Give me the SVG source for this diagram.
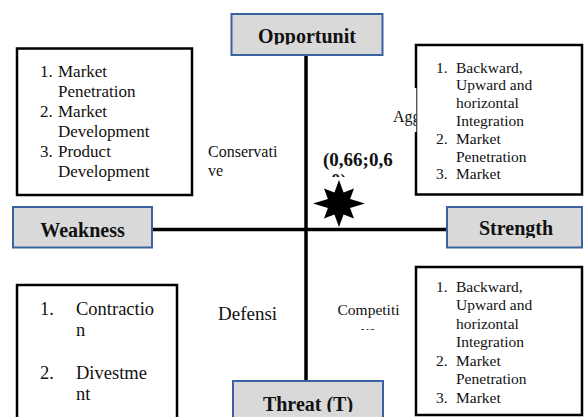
<svg xmlns="http://www.w3.org/2000/svg" width="584" height="417" viewBox="0 0 584 417">
<style>
.lbl{fill:#d9d9d9;stroke:#3b62a0;stroke-width:2}
.box{fill:#fff;stroke:#000;stroke-width:2.5}
.t{font-family:"Liberation Serif","Times New Roman",serif;fill:#111}
.b{font-family:"Liberation Serif","Times New Roman",serif;font-weight:bold;font-size:20px;fill:#111;text-anchor:middle}
.ax{stroke:#000;stroke-width:3.5;fill:none}
</style>
<defs>
<clipPath id="cOpp"><rect x="231" y="13" width="152" height="31.5"/></clipPath>
<clipPath id="cStr"><rect x="447" y="207" width="135" height="31"/></clipPath>
<clipPath id="cThr"><rect x="233" y="381" width="150" height="31"/></clipPath>
<clipPath id="cAgg"><rect x="380" y="88" width="36.5" height="44"/></clipPath>
<clipPath id="cCoord"><rect x="300" y="140" width="115" height="37"/></clipPath>
<clipPath id="cComp"><rect x="320" y="290" width="95" height="40"/></clipPath>
</defs>
<rect width="584" height="417" fill="#fff"/>
<g id="connectors">
<line class="ax" x1="306" y1="55" x2="306" y2="381"/>
<line class="ax" x1="152" y1="229.5" x2="447" y2="229.5"/>
</g>
<g id="opportunity">
<rect class="lbl" x="231.5" y="14" width="151" height="41"/>
<text class="b" x="307" y="43" clip-path="url(#cOpp)">Opportunit</text>
</g>
<g id="weakness">
<rect class="lbl" x="13" y="207" width="139" height="40.5"/>
<text class="b" x="82.5" y="236.5">Weakness</text>
</g>
<g id="strength">
<rect class="lbl" x="447" y="207" width="135" height="40.5"/>
<text class="b" x="516" y="235" clip-path="url(#cStr)">Strength</text>
</g>
<g id="threat">
<rect class="lbl" x="233" y="381" width="150" height="40"/>
<text class="b" x="308" y="410.5" clip-path="url(#cThr)">Threat (T)</text>
</g>
<g id="box-tl">
<rect class="box" x="17" y="48.5" width="175" height="146.5"/>
<text class="t" font-size="17"><tspan x="40" y="77">1.</tspan><tspan x="58" y="77">Market</tspan><tspan x="58" y="97">Penetration</tspan><tspan x="40" y="117">2.</tspan><tspan x="58" y="117">Market</tspan><tspan x="58" y="137">Development</tspan><tspan x="40" y="157">3.</tspan><tspan x="58" y="157">Product</tspan><tspan x="58" y="177">Development</tspan></text>
</g>
<g id="box-tr">
<rect class="box" x="416" y="45" width="166" height="149.5"/>
<rect x="394" y="88" width="22" height="44" fill="#fff"/>
<line x1="416.5" y1="88" x2="416.5" y2="132" stroke="#555" stroke-width="1"/>
<text class="t" font-size="15.5"><tspan x="436" y="72.5">1.</tspan><tspan x="456" y="72.5">Backward,</tspan><tspan x="456" y="90.3">Upward and</tspan><tspan x="456" y="108.1">horizontal</tspan><tspan x="456" y="125.9">Integration</tspan><tspan x="436" y="143.7">2.</tspan><tspan x="456" y="143.7">Market</tspan><tspan x="456" y="161.5">Penetration</tspan><tspan x="436" y="179.3">3.</tspan><tspan x="456" y="179.3">Market</tspan></text>
</g>
<g id="box-bl">
<rect class="box" x="17" y="285" width="160" height="140"/>
<text class="t" font-size="18.5"><tspan x="40" y="315">1.</tspan><tspan x="76" y="315">Contractio</tspan><tspan x="76" y="336">n</tspan><tspan x="40" y="379">2.</tspan><tspan x="76" y="379">Divestme</tspan><tspan x="76" y="400">nt</tspan></text>
</g>
<g id="box-br">
<rect class="box" x="416" y="267" width="166" height="148"/>
<text class="t" font-size="15.5"><tspan x="436" y="291.5">1.</tspan><tspan x="456" y="291.5">Backward,</tspan><tspan x="456" y="310">Upward and</tspan><tspan x="456" y="328.5">horizontal</tspan><tspan x="456" y="347">Integration</tspan><tspan x="436" y="365.5">2.</tspan><tspan x="456" y="365.5">Market</tspan><tspan x="456" y="384">Penetration</tspan><tspan x="436" y="402.5">3.</tspan><tspan x="456" y="402.5">Market</tspan></text>
</g>
<g id="quadrant-labels">
<text class="t" font-size="16" x="208" y="157">Conservati</text>
<text class="t" font-size="16" x="208" y="176">ve</text>
<text class="t" font-size="16" x="393" y="122" clip-path="url(#cAgg)">Agg</text>
<text class="t" font-size="19" x="218" y="320">Defensi</text>
<g clip-path="url(#cComp)">
<text class="t" font-size="15.5" x="337.5" y="315">Competiti</text>
<text class="t" font-size="15.5" x="361" y="336">ve</text>
</g>
</g>
<g id="position">
<g clip-path="url(#cCoord)">
<text class="t" font-size="19" font-weight="bold" x="323" y="166">(0,66;0,6</text>
<text class="t" font-size="19" font-weight="bold" x="331" y="187">0)</text>
</g>
<polygon fill="#000" points="339,180 343.6,192.4 354,188.5 350.1,198.9 365,203.5 350.1,208.1 354,218.5 343.6,214.6 339,227 334.4,214.6 324,218.5 327.9,208.1 313,203.5 327.9,198.9 324,188.5 334.4,192.4"/>
</g>
</svg>
